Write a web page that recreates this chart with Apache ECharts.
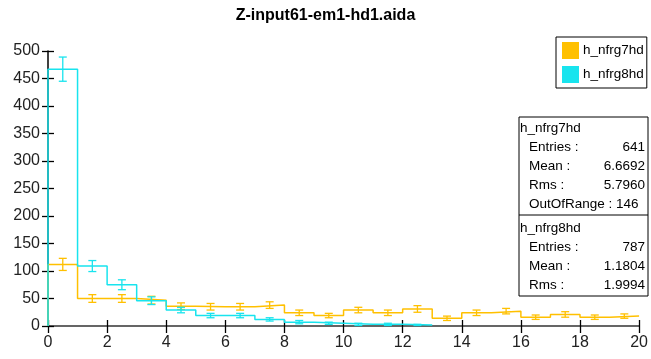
<!DOCTYPE html>
<html>
<head>
<meta charset="utf-8">
<script src="https://cdn.jsdelivr.net/npm/echarts@6/dist/echarts.min.js"></script>
<style>html,body{margin:0;padding:0;background:#fff;}#c{width:651px;height:359px;}</style>
</head>
<body>
<div id="c"></div>
<script>
// ---- data ----
const binEdges = [0,1,2,3,4,5,6,7,8,9,10,11,12,13,14,15,16,17,18,19,20];
const yellowCounts = [112, 50, 50, 47, 36, 35, 35, 38, 24, 19, 29, 24, 31, 14, 24, 27, 16, 21, 16, 18];
const yellowErrors = [11, 7, 7, 7, 6, 6, 6, 6, 5, 4, 5, 5, 6, 4, 5, 5, 4, 5, 4, 4];
const cyanCounts = [467, 109, 75, 46, 29, 19, 19, 12, 7, 5, 3, 3, 2];
const cyanErrors = [22, 10, 9, 7, 5, 4, 4, 3, 3, 2, 2, 2, 1];
const xTicks = [0,2,4,6,8,10,12,14,16,18,20];
const yTicks = [0,50,100,150,200,250,300,350,400,450,500];
const seriesNames = ['h_nfrg7hd', 'h_nfrg8hd'];
const stats7 = [['Entries :', '641'], ['Mean :', '6.6692'], ['Rms :', '5.7960'], ['OutOfRange : 146', '']];
const stats8 = [['Entries :', '787'], ['Mean :', '1.1804'], ['Rms :', '1.9994']];

const YELLOW = '#ffc000';
const CYAN = '#18e4ee';
const FONT = '"Liberation Sans", Arial, sans-serif';

function stepData(counts) {
  const d = [[binEdges[0], 0]];
  for (let i = 0; i < counts.length; i++) d.push([binEdges[i], counts[i]]);
  d.push([binEdges[counts.length], counts[counts.length - 1]]);
  return d;
}
function errData(counts, errs) {
  return counts.map((v, i) => [(binEdges[i] + binEdges[i + 1]) / 2, v - errs[i], v + errs[i]]);
}
function errRender(color) {
  return function (params, api) {
    const x = api.value(0);
    const lo = api.coord([x, api.value(1)]);
    const hi = api.coord([x, api.value(2)]);
    const w = 4;
    const style = { stroke: color, lineWidth: 1.3, fill: null };
    return {
      type: 'group',
      children: [
        { type: 'line', shape: { x1: lo[0], y1: lo[1], x2: hi[0], y2: hi[1] }, style },
        { type: 'line', shape: { x1: lo[0] - w, y1: lo[1], x2: lo[0] + w, y2: lo[1] }, style },
        { type: 'line', shape: { x1: hi[0] - w, y1: hi[1], x2: hi[0] + w, y2: hi[1] }, style }
      ]
    };
  };
}

const chart = echarts.init(document.getElementById('c'), null, { renderer: 'canvas' });

const xBase = { type: 'value', min: xTicks[0], max: xTicks[xTicks.length - 1], interval: 2, splitLine: { show: false } };
const yBase = { type: 'value', min: yTicks[0], max: yTicks[yTicks.length - 1], interval: 50, splitLine: { show: false } };

// stats box graphics
const sx = 519, sy = 117, sw = 129, sh = 179, divY = 98;
const rowH = 19;
const statsEls = [
  { type: 'rect', shape: { x: sx, y: sy, width: sw, height: sh }, style: { fill: '#fff', stroke: '#000', lineWidth: 1 }, z: 10 },
  { type: 'line', shape: { x1: sx, y1: sy + divY, x2: sx + sw, y2: sy + divY }, style: { stroke: '#000', lineWidth: 1 }, z: 10 }
];
function txt(t, x, y, align) {
  return { type: 'text', z: 11, style: { text: t, x: x, y: y, font: '13.5px ' + FONT, fill: '#000', textAlign: align || 'left', textVerticalAlign: 'middle' } };
}
function addBlock(title, rows, top) {
  statsEls.push(txt(title, sx + 1, top));
  rows.forEach((r, i) => {
    statsEls.push(txt(r[0], sx + 10, top + rowH * (i + 1)));
    if (r[1]) statsEls.push(txt(r[1], sx + sw - 3, top + rowH * (i + 1), 'right'));
  });
}
addBlock(seriesNames[0], stats7, sy + 11);
addBlock(seriesNames[1], stats8, sy + divY + 13);

chart.setOption({
  animation: false,
  backgroundColor: '#fff',
  title: {
    text: 'Z-input61-em1-hd1.aida', left: 'center', top: 3,
    textStyle: { fontFamily: FONT, fontSize: 16, fontWeight: 'bold', color: '#000' }
  },
  legend: {
    data: seriesNames.map((n, i) => ({ name: n, icon: 'rect', itemStyle: { color: i === 0 ? YELLOW : CYAN } })),
    orient: 'vertical', left: 556, top: 37,
    itemWidth: 17, itemHeight: 17, itemGap: 7,
    padding: [5, 3, 5, 6],
    borderColor: '#000', borderWidth: 1, backgroundColor: '#fff',
    textStyle: { fontFamily: FONT, fontSize: 13.5, color: '#000', padding: [0, 0, 0, -1] }
  },
  grid: { left: 48, right: 8, top: 51, bottom: 33 },
  xAxis: [
    Object.assign({}, xBase, {
      position: 'bottom',
      axisLine: { show: true, lineStyle: { color: '#333', width: 1.5 } },
      axisTick: { show: true, inside: false, length: 7, lineStyle: { color: '#000', width: 1.3 } },
      axisLabel: { show: true, fontFamily: FONT, fontSize: 16, color: '#222', margin: 9 }
    }),
    Object.assign({}, xBase, {
      position: 'bottom',
      axisLine: { show: false },
      axisTick: { show: true, inside: true, length: 6, lineStyle: { color: '#000', width: 1.3 } },
      axisLabel: { show: false }
    })
  ],
  yAxis: [
    Object.assign({}, yBase, {
      position: 'left',
      axisLine: { show: true, lineStyle: { color: '#000', width: 1.5 } },
      axisTick: { show: true, inside: false, length: 6, lineStyle: { color: '#000', width: 1.3 } },
      axisLabel: { show: true, fontFamily: FONT, fontSize: 16, color: '#222', margin: 8 }
    }),
    Object.assign({}, yBase, {
      position: 'left',
      axisLine: { show: false },
      axisTick: { show: true, inside: true, length: 6, lineStyle: { color: '#000', width: 1.3 } },
      axisLabel: { show: false }
    })
  ],
  series: [
    {
      name: seriesNames[0], type: 'line', step: 'end', data: stepData(yellowCounts),
      showSymbol: false, symbol: 'none', lineStyle: { color: YELLOW, width: 1.5 }, itemStyle: { color: YELLOW }, z: 3
    },
    {
      type: 'custom', renderItem: errRender(YELLOW), data: errData(yellowCounts, yellowErrors),
      encode: { x: 0, y: [1, 2] }, z: 3
    },
    {
      name: seriesNames[1], type: 'line', step: 'end', data: stepData(cyanCounts),
      showSymbol: false, symbol: 'none', lineStyle: { color: CYAN, width: 1.5 }, itemStyle: { color: CYAN }, z: 4
    },
    {
      type: 'custom', renderItem: errRender(CYAN), data: errData(cyanCounts, cyanErrors),
      encode: { x: 0, y: [1, 2] }, z: 4
    }
  ],
  graphic: statsEls
});
</script>
</body>
</html>
